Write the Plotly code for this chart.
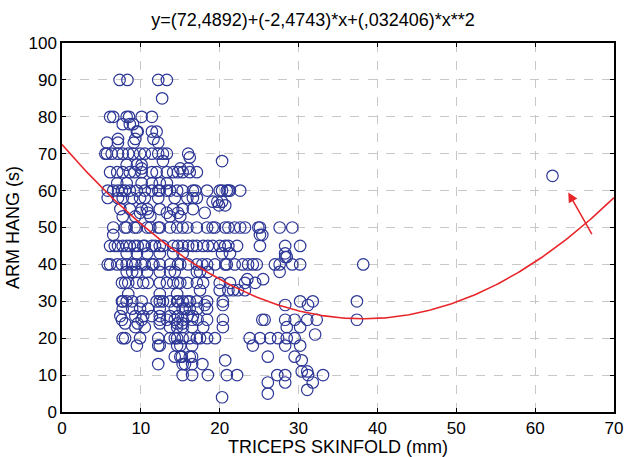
import numpy as np
import plotly.graph_objects as go

# Fit coefficients (from the chart title)
b0, b1, b2 = 72.4892, -2.4743, 0.032406

# Observations, grouped by ARM HANG level: (arm hang seconds, list of triceps skinfold mm)
skinfold_mm = []
arm_hang_s = []

rows = [
    (90, [7.3, 8.3, 12.2, 13.3]),
    (85, [12.7]),
    (80, [6.1, 6.5, 8.2, 8.5, 10.1, 11.4]),
    (78, [8.6, 9.0, 7.7]),
    (76, [9.5, 9.6, 11.4, 12.0]),
    (74, [7.1, 9.3, 11.6]),
    (73, [5.7, 7.1, 9.1, 12.2]),
    (70, [5.5, 5.7, 6.3, 7.1, 7.7, 8.4, 9.0, 9.9, 10.5, 11.4, 12.2, 12.8, 13.3, 16.0]),
    (69, [16.2]),
    (68, [20.3, 12.8]),
    (67, [8.2, 9.5, 10.1]),
    (66, [10.1, 15.0, 16.0]),
    (65, [6.1, 7.0, 7.7, 8.6, 9.2, 10.1, 11.4, 12.0, 13.3, 14.1, 14.7, 15.3, 16.2, 17.1]),
    (62, [7.0, 8.2, 10.1, 11.4, 12.4, 13.3]),
    (60, [5.8, 6.5, 7.1, 7.6, 8.0, 8.6, 9.5, 10.5, 11.4, 12.2, 12.4, 13.3, 13.7, 14.6, 15.3, 16.6,
          16.9, 18.4, 20.0, 20.3, 20.9, 21.1, 21.3, 22.6]),
    (58, [5.8, 7.1, 7.7, 8.9, 9.9, 10.5, 12.2, 14.3, 15.9, 16.6, 17.1]),
    (57, [19.1, 19.7, 20.3]),
    (56, [19.9, 20.7]),
    (55, [7.4, 8.6, 10.1, 10.8, 12.4, 14.1, 15.3, 16.6]),
    (54, [9.9, 10.9, 13.3, 14.7, 18.1]),
    (53, [7.7, 9.3, 11.2, 13.7, 15.0]),
    (50, [6.5, 8.0, 8.2, 9.2, 9.5, 10.8, 11.2, 12.2, 12.4, 13.7, 14.6, 15.3, 15.9, 17.1, 18.4, 19.1,
          19.4, 20.7, 21.1, 21.9, 22.6, 23.2, 24.9, 25.1, 27.6, 29.2]),
    (48, [6.5, 25.1, 25.4]),
    (45, [6.1, 6.7, 7.1, 7.7, 8.2, 8.6, 9.2, 9.6, 10.3, 10.5, 11.4, 11.8, 12.4, 12.8, 14.1, 14.7,
          15.3, 16.0, 16.6, 17.1, 17.9, 18.5, 19.1, 20.0, 20.7, 21.1, 22.2, 25.1, 28.3, 30.2]),
    (43, [8.2, 9.5, 10.8, 12.4, 14.1, 15.3, 20.3, 21.3, 28.3]),
    (42, [28.3, 28.5]),
    (40, [5.8, 6.1, 7.0, 7.6, 8.2, 8.9, 9.3, 10.1, 10.5, 11.4, 11.6, 12.4, 13.7, 14.7, 15.0, 16.0,
          17.1, 17.8, 18.4, 19.4, 20.7, 20.9, 21.9, 22.9, 23.6, 24.2, 24.7, 27.0, 27.6, 29.2, 30.2, 38.2]),
    (38, [8.2, 8.9, 9.5, 10.8, 12.4, 13.7, 14.3, 17.1, 17.5, 18.5, 27.6]),
    (36, [25.5, 23.5]),
    (35, [7.6, 8.0, 8.4, 9.5, 10.3, 10.9, 12.4, 13.3, 14.1, 14.7, 15.0, 15.9, 17.1, 17.9, 20.0, 21.3,
          23.2, 24.5]),
    (33, [17.5, 20.0, 21.1, 21.7, 22.3, 23.2]),
    (32, [8.4, 12.4, 14.6]),
    (30, [7.6, 7.7, 8.2, 8.9, 10.1, 12.0, 12.4, 12.8, 13.7, 14.6, 14.7, 15.3, 15.9, 16.2, 17.1, 18.4,
          20.4, 30.2, 31.8, 37.4]),
    (29, [18.1, 20.4, 28.3, 31.2]),
    (28, [7.7, 8.9, 9.9, 10.9, 12.4, 14.3, 15.3, 15.6, 16.2, 17.2, 18.4]),
    (26, [7.4, 9.3, 10.3, 11.4, 12.4, 13.7, 14.7, 15.9, 16.6]),
    (25, [7.6, 10.1, 12.4, 13.3, 14.3, 15.3, 16.5, 17.2, 18.4, 20.4, 25.4, 25.7, 28.3, 29.5, 31.1,
          32.3, 37.4]),
    (24, [8.0, 9.6, 12.4, 14.6, 15.3]),
    (23, [9.3, 10.5, 13.7, 14.6, 15.3, 16.5, 17.9, 20.4, 28.5, 30.2]),
    (21, [32.1]),
    (20, [7.7, 8.0, 9.9, 12.2, 13.7, 14.3, 14.6, 15.3, 16.2, 17.1, 17.5, 18.4, 19.4, 23.8, 25.1, 26.4,
          27.4, 28.5, 29.5]),
    (18, [9.5, 12.2, 12.4, 14.6, 15.0, 16.5, 24.2, 28.3, 30.2]),
    (15, [14.3, 15.0, 15.2, 16.2, 16.5, 26.1, 29.5]),
    (14, [20.7, 30.4]),
    (13, [12.2, 15.3, 15.6, 16.5, 17.8]),
    (11, [30.4, 31.1]),
    (10, [15.3, 16.5, 18.5, 20.9, 22.2, 27.3, 28.3, 31.2, 33.1]),
    (8, [26.1, 28.3, 31.8]),
    (6, [31.1]),
    (5, [26.1]),
    (4, [20.3]),
    (64, [62.2]),
]
for yv, xs in rows:
    for xv in xs:
        skinfold_mm.append(xv)
        arm_hang_s.append(yv)

# Arrow pointing to outlier (tail -> head)
arrow_tail = (67.3, 47.8)
arrow_head = (64.2, 59.5)

xfit = np.linspace(0, 70, 300)
yfit = b0 + b1 * xfit + b2 * xfit ** 2

navy = "rgb(45,55,150)"
red = "rgb(232,38,42)"
font = "Liberation Sans, Arial, sans-serif"

fig = go.Figure()
fig.add_trace(go.Scatter(
    x=skinfold_mm, y=arm_hang_s, mode="markers",
    marker=dict(symbol="circle-open", size=11.5, color=navy, line=dict(width=1.2, color=navy)),
    showlegend=False, cliponaxis=True))
fig.add_trace(go.Scatter(
    x=xfit, y=yfit, mode="lines", line=dict(color=red, width=1.6),
    showlegend=False))

fig.add_annotation(x=arrow_head[0], y=arrow_head[1], ax=arrow_tail[0], ay=arrow_tail[1],
                   xref="x", yref="y", axref="x", ayref="y", text="", showarrow=True,
                   arrowhead=2, arrowsize=1.3, arrowwidth=1.5, arrowcolor=red)

axis_common = dict(
    showline=True, linecolor="black", linewidth=1.5, mirror="ticks",
    ticks="inside", ticklen=4, tickcolor="black",
    showgrid=True, gridcolor="#c8c8c8", griddash="dash", gridwidth=1,
    zeroline=False, tickfont=dict(family=font, size=17, color="black"),
)
fig.update_xaxes(range=[0, 70], dtick=10, tick0=0,
                 title=dict(text="TRICEPS SKINFOLD (mm)", font=dict(family=font, size=18, color="black"), standoff=0),
                 **axis_common)
fig.update_yaxes(range=[0, 100], dtick=10, tick0=0,
                 title=dict(text="ARM HANG (s)", font=dict(family=font, size=18, color="black"), standoff=4),
                 **axis_common)

fig.update_layout(
    width=626, height=457,
    margin=dict(l=62, r=12, t=43, b=45, autoexpand=False),
    paper_bgcolor="white", plot_bgcolor="white",
    title=dict(text="y=(72,4892)+(-2,4743)*x+(,032406)*x**2", x=0.5, xanchor="center",
               y=1 - 20 / 457, yanchor="middle", yref="container",
               font=dict(family=font, size=18, color="black")),
    font=dict(family=font),
)

fig.write_html("out.html")
